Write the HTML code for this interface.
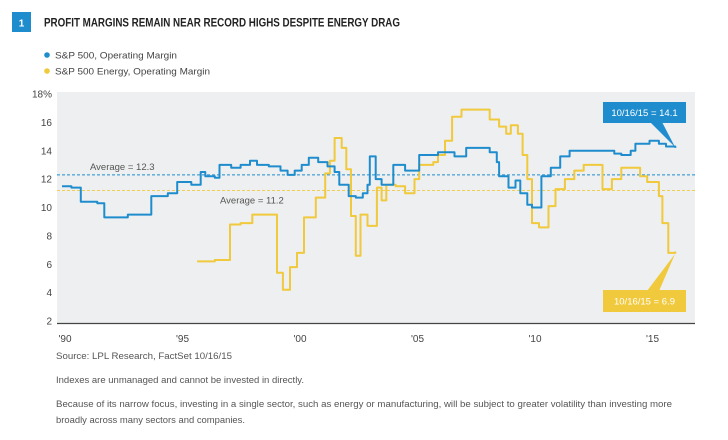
<!DOCTYPE html>
<html><head><meta charset="utf-8"><style>
html,body{margin:0;padding:0;background:#fff;}
svg{display:block;font-family:"Liberation Sans",sans-serif;}
</style></head><body>
<svg id="chart" width="728" height="440" viewBox="0 0 728 440">
<rect x="12" y="12" width="19" height="20" fill="#1f8dcd"/>
<text x="21.5" y="26.5" font-size="10" font-weight="bold" fill="#fff" text-anchor="middle">1</text>
<text x="44" y="26.5" font-size="11.5" font-weight="bold" fill="#222" textLength="356" lengthAdjust="spacingAndGlyphs">PROFIT MARGINS REMAIN NEAR RECORD HIGHS DESPITE ENERGY DRAG</text>
<g>
<circle cx="47" cy="55" r="2.8" fill="#1f8dcd"/>
<text x="55" y="58.5" font-size="9.5" fill="#444" textLength="122" lengthAdjust="spacingAndGlyphs">S&amp;P 500, Operating Margin</text>
<circle cx="47" cy="71" r="2.8" fill="#f0c93c"/>
<text x="55" y="74.5" font-size="9.5" fill="#444" textLength="155" lengthAdjust="spacingAndGlyphs">S&amp;P 500 Energy, Operating Margin</text>
</g>
<rect x="57" y="92" width="638" height="231" fill="#eeeff0"/>
<g id="yt"></g>
<g id="xt"></g>
<g id="avg"></g>
<g id="series"></g>
<line x1="57" y1="323.5" x2="695" y2="323.5" stroke="#444" stroke-width="1.2"/>
<g>
<polygon points="650,122 662,122 675,147" fill="#1f8dcd"/>
<rect x="603" y="102" width="83" height="21" fill="#1f8dcd"/>
<text x="644.5" y="116" font-size="9.5" fill="#fff" text-anchor="middle">10/16/15 = 14.1</text>
</g>
<g>
<polygon points="647,291 659,291 675,254" fill="#f0c93c"/>
<rect x="603" y="290" width="83" height="22" fill="#f0c93c"/>
<text x="644.5" y="304.5" font-size="9.5" fill="#fff" text-anchor="middle">10/16/15 = 6.9</text>
</g>
<text x="56" y="359" font-size="9" fill="#555" textLength="176" lengthAdjust="spacingAndGlyphs">Source: LPL Research, FactSet   10/16/15</text>
<text x="56" y="383" font-size="9" fill="#555" textLength="248" lengthAdjust="spacingAndGlyphs">Indexes are unmanaged and cannot be invested in directly.</text>
<text x="56" y="407" font-size="9" fill="#555" textLength="616" lengthAdjust="spacingAndGlyphs">Because of its narrow focus, investing in a single sector, such as energy or manufacturing, will be subject to greater volatility than investing more</text>
<text x="56" y="423" font-size="9" fill="#555" textLength="189" lengthAdjust="spacingAndGlyphs">broadly across many sectors and companies.</text>
</svg>
<script>
const yTicks = [2,4,6,8,10,12,14,16,18];
const xTickYears = [1990,1995,2000,2005,2010,2015];
const xTickLabels = ["'90","'95","'00","'05","'10","'15"];
const spDates = [1990.0,1990.4,1990.8,1991.5,1991.8,1992.8,1993.8,1994.5,1994.9,1995.5,1995.9,1996.1,1996.5,1996.7,1997.2,1997.6,1998.0,1998.3,1998.8,1999.3,1999.6,1999.9,2000.2,2000.5,2000.9,2001.3,2001.6,2001.8,2002.2,2002.5,2002.8,2003.0,2003.1,2003.35,2003.6,2004.1,2004.6,2005.2,2006.0,2006.7,2007.2,2008.2,2008.5,2008.6,2009.0,2009.3,2009.5,2009.8,2010.0,2010.4,2010.8,2011.2,2011.6,2013.5,2013.8,2014.2,2014.4,2015.0,2015.4,2015.7,2016.1];
const spValues = [11.5,11.4,10.4,10.3,9.3,9.5,10.8,11.0,11.8,11.6,12.5,12.2,12.1,13.0,12.8,13.0,13.3,13.0,12.9,12.6,12.3,12.6,13.0,13.5,13.2,12.9,12.5,11.6,10.8,10.7,11.0,11.6,13.6,12.0,11.6,13.0,12.6,13.7,13.9,13.6,14.2,13.9,13.2,12.2,11.4,11.9,11.0,10.2,10.0,12.2,12.8,13.6,14.0,13.8,13.7,14.0,14.5,14.7,14.5,14.3,14.2];
const enDates = [1995.75,1996.5,1997.15,1997.6,1998.1,1999.15,1999.4,1999.7,2000.0,2000.3,2000.8,2001.2,2001.4,2001.6,2001.9,2002.1,2002.3,2002.5,2002.7,2003.0,2003.4,2003.6,2003.8,2004.2,2004.6,2005.0,2005.2,2005.8,2006.0,2006.3,2006.6,2007.0,2008.2,2008.6,2008.9,2009.1,2009.4,2009.6,2009.8,2010.0,2010.3,2010.7,2011.0,2011.4,2011.8,2012.2,2013.0,2013.4,2013.8,2014.6,2014.9,2015.4,2015.55,2015.8,2016.1];
const enValues = [6.2,6.3,8.8,8.9,9.5,5.4,4.2,5.8,6.8,9.3,10.7,12.4,13.3,14.9,14.2,12.7,9.4,6.6,9.5,8.7,11.4,10.5,11.6,11.5,11.0,12.0,13.0,13.2,13.7,14.7,16.4,16.9,16.2,15.7,15.2,15.8,15.2,13.7,12.0,8.9,8.6,10.1,11.3,12.0,12.6,13.0,11.3,12.0,12.8,12.2,11.8,10.8,8.9,6.8,6.9];
const avgValues = [12.3, 11.2];
const NS='http://www.w3.org/2000/svg';
const X0=57,X1=695,Y0=323,Y1=94;
const xs=y=>62+(y-1990)*23.5;
const ys=v=>Y0-2-(v-2)*(Y0-2-Y1)/16;
function mk(tag,attrs,parent,txt){const e=document.createElementNS(NS,tag);for(const k in attrs)e.setAttribute(k,attrs[k]);if(txt!==undefined)e.textContent=txt;parent.appendChild(e);return e;}
const yt=document.getElementById('yt');
yTicks.forEach((v,i)=>{
  const t=mk('text',{x:52,y:ys(v)+3.5,'font-size':10,fill:'#444','text-anchor':'end'},yt,v+(i===yTicks.length-1?'%':''));
  
  
});
const xt=document.getElementById('xt');
xTickYears.forEach((yr,i)=>{
  const t=mk('text',{x:xs(yr)+3,y:342,'font-size':10,fill:'#444','text-anchor':'middle'},xt,xTickLabels[i]);
  
  
});
const avg=document.getElementById('avg');
const l1=mk('line',{x1:X0,x2:X1,y1:ys(avgValues[0]),y2:ys(avgValues[0]),stroke:'#1f8dcd','stroke-width':0.9,'stroke-dasharray':'3,2'},avg);


const l2=mk('line',{x1:X0,x2:X1,y1:ys(avgValues[1]),y2:ys(avgValues[1]),stroke:'#f0c93c','stroke-width':0.9,'stroke-dasharray':'3,2'},avg);


const a1=mk('text',{x:90,y:ys(avgValues[0])-5,'font-size':9.5,fill:'#555'},avg,'Average = '+avgValues[0]);


const a2=mk('text',{x:220,y:ys(avgValues[1])+13,'font-size':9.5,fill:'#555'},avg,'Average = '+avgValues[1]);


function stepPath(d,v){let p='M'+xs(d[0]).toFixed(1)+','+ys(v[0]).toFixed(1);for(let i=1;i<d.length;i++){p+='H'+xs(d[i]).toFixed(1)+'V'+ys(v[i]).toFixed(1);}return p;}
const sg=document.getElementById('series');
const pe=mk('path',{d:stepPath(enDates,enValues),fill:'none',stroke:'#f0c93c','stroke-width':2,'stroke-linejoin':'round'},sg);


const ps=mk('path',{d:stepPath(spDates,spValues),fill:'none',stroke:'#1f8dcd','stroke-width':2,'stroke-linejoin':'round'},sg);


</script>
</body></html>
